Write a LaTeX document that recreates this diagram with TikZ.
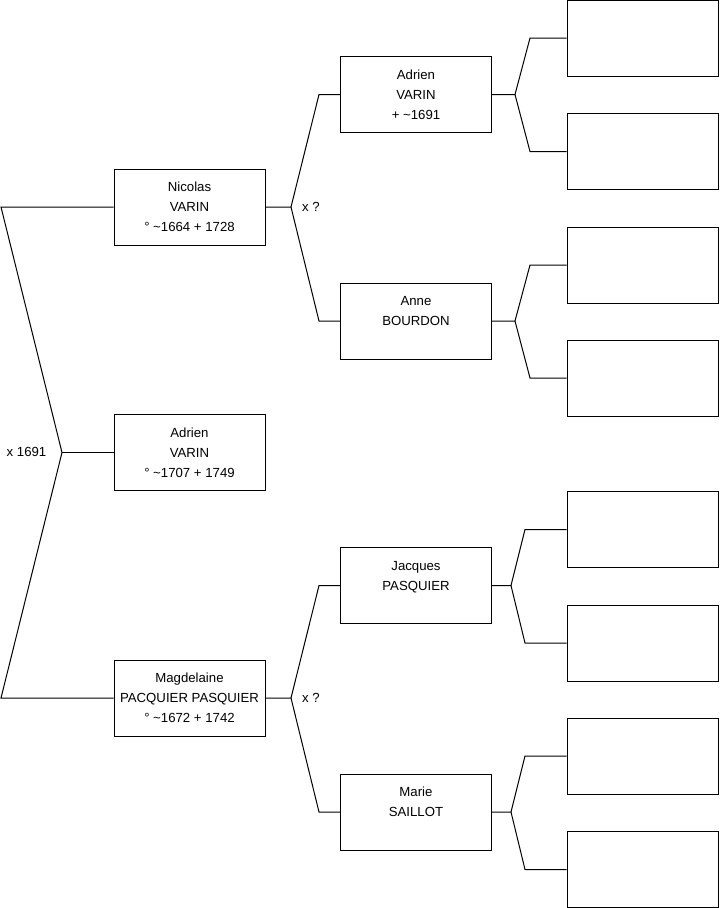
\documentclass[tikz,border=0pt]{standalone}
\usepackage{fontspec}
\setmainfont{Liberation Sans}
\usetikzlibrary{positioning}

\begin{document}
\begin{tikzpicture}[
        x=0.75pt,y=-0.75pt,
        person/.style={draw,line width=0.75pt,minimum width=113.25pt,minimum height=57pt,inner sep=0pt,align=center,font=\fontsize{9.9}{15}\selectfont},
        empty/.style={person},
        link/.style={line width=0.75pt},
        tag/.style={inner sep=0pt,font=\fontsize{9.9}{15}\selectfont}
      ]
        \useasboundingbox (0,0) rectangle (719,908);
        % generation 1 and 2
        \node[person] (nicolas) at (189.5,207) {Nicolas\\VARIN\\° \textasciitilde1664 + 1728};
        \node[person] (adrien) at (189.5,452.5) {Adrien\\VARIN\\° \textasciitilde1707 + 1749};
        \node[person] (magdelaine) at (189.5,698) {Magdelaine\\PACQUIER PASQUIER\\° \textasciitilde1672 + 1742};
        % generation 3
        \node[person] (adrienp) at (416,94.5) {Adrien\\VARIN\\+ \textasciitilde1691};
        \node[person] (anne) at (416,321) {Anne\\BOURDON\\\mbox{}};
        \node[person] (jacques) at (416,585.5) {Jacques\\PASQUIER\\\mbox{}};
        \node[person] (marie) at (416,812) {Marie\\SAILLOT\\\mbox{}};
        % generation 4
        \foreach \n/\y in {1/38,2/151.5,3/265,4/378,5/529.5,6/643,7/756,8/869.5}
          \node[empty] (e\n) at (642.5,\y) {};
        % marriages
        \node[tag] (m0) at (26.5,451.5) {x 1691};
        \node[tag] (m1) at (311,207) {x ?};
        \node[tag] (m2) at (311,697.5) {x ?};
        % fork points
        \coordinate (j0) at (62,452.5);
        \coordinate (c0a) at (1,207);
        \coordinate (c0b) at (1,698);
        \coordinate (j1) at (291,207);
        \coordinate (j2) at (291,698);
        \draw[link] (nicolas.west) -- (c0a) -- (j0) -- (c0b) -- (magdelaine.west);
        \draw[link] (j0) -- (adrien.west);
        \draw[link] (nicolas.east) -- (j1) -- (319,94.5) -- (adrienp.west);
        \draw[link] (j1) -- (319,321) -- (anne.west);
        \draw[link] (magdelaine.east) -- (j2) -- (319,585.5) -- (jacques.west);
        \draw[link] (j2) -- (319,812) -- (marie.west);
        \draw[link] (adrienp.east) -- (515,94.5) -- (530,38) -- (e1.west);
        \draw[link] (515,94.5) -- (530,151.5) -- (e2.west);
        \draw[link] (anne.east) -- (515,321) -- (530,265) -- (e3.west);
        \draw[link] (515,321) -- (530,378) -- (e4.west);
        \draw[link] (jacques.east) -- (511,585.5) -- (525,529.5) -- (e5.west);
        \draw[link] (511,585.5) -- (525,643) -- (e6.west);
        \draw[link] (marie.east) -- (511,812) -- (525,756) -- (e7.west);
        \draw[link] (511,812) -- (525,869.5) -- (e8.west);
      \end{tikzpicture}
\end{document}
